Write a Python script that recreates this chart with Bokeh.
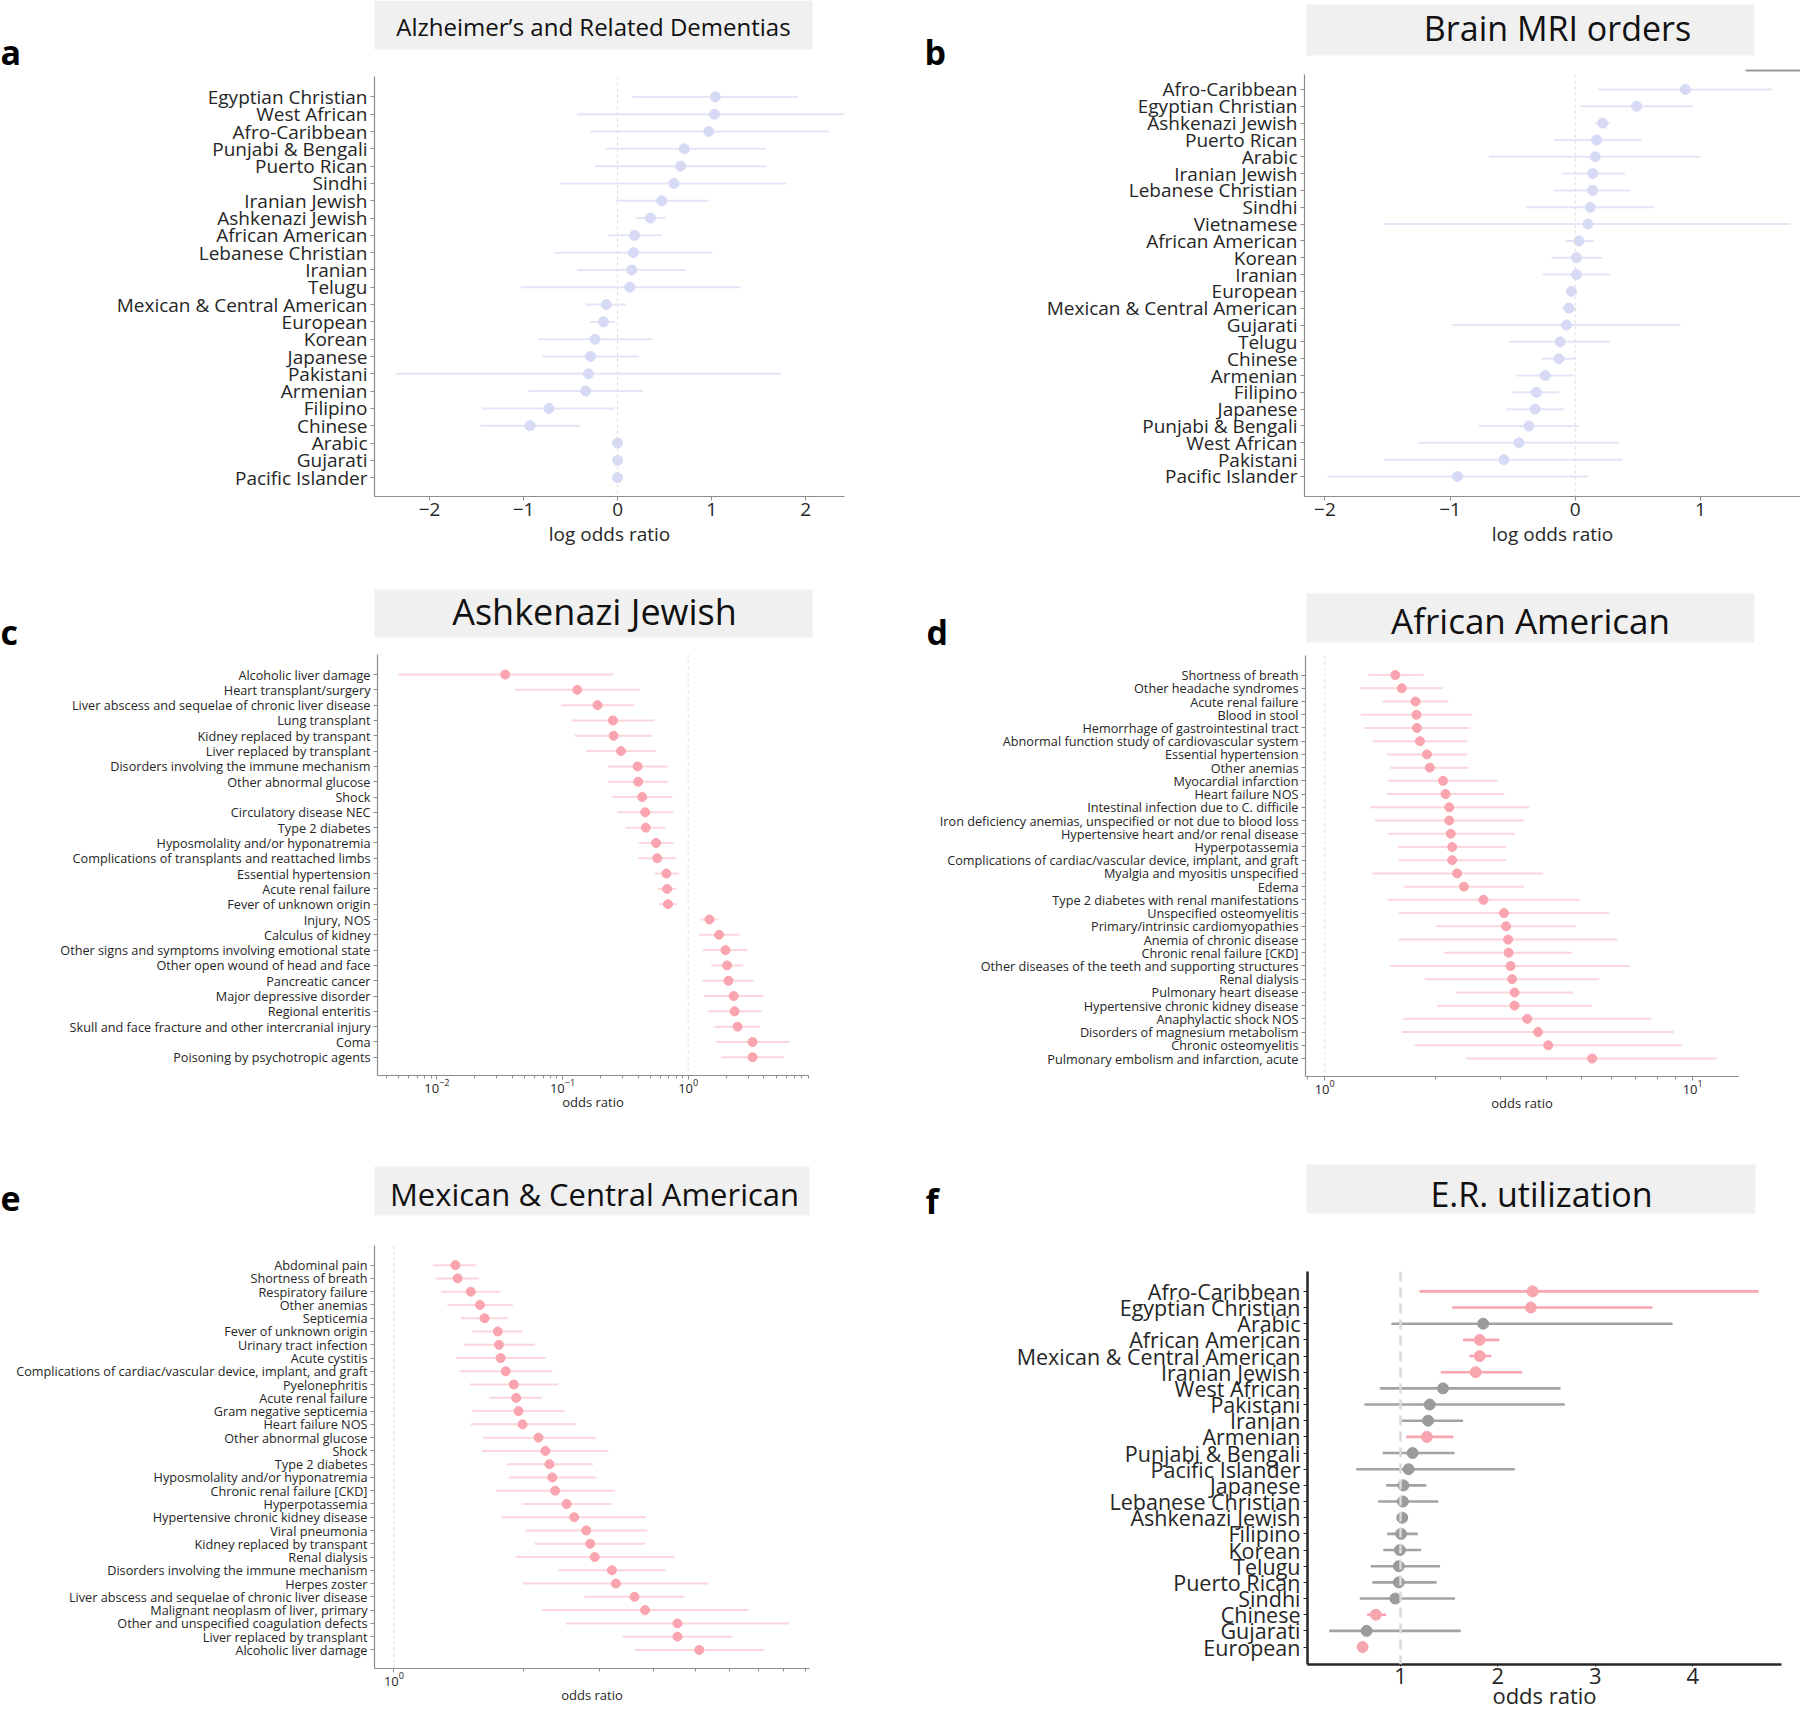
from bokeh.plotting import figure
from bokeh.layouts import column, row
from bokeh.models import Range1d, FixedTicker, LogTickFormatter, Span
from bokeh.core.properties import value
from bokeh.embed import file_html
from bokeh.resources import INLINE

FONT = "Open Sans"

# ---------------- data ----------------
a_groups = ["Egyptian Christian", "West African", "Afro-Caribbean", "Punjabi & Bengali", "Puerto Rican",
            "Sindhi", "Iranian Jewish", "Ashkenazi Jewish", "African American", "Lebanese Christian",
            "Iranian", "Telugu", "Mexican & Central American", "European", "Korean", "Japanese",
            "Pakistani", "Armenian", "Filipino", "Chinese", "Arabic", "Gujarati", "Pacific Islander"]
a_est = [1.04, 1.03, 0.97, 0.71, 0.67, 0.60, 0.47, 0.35, 0.18, 0.17, 0.15, 0.13, -0.12, -0.15,
         -0.24, -0.29, -0.31, -0.34, -0.73, -0.93, 0.0, 0.0, 0.0]
a_lo = [0.16, -0.43, -0.29, -0.13, -0.24, -0.61, -0.02, 0.20, -0.10, -0.67, -0.43, -1.03, -0.34,
        -0.29, -0.85, -0.80, -2.36, -0.95, -1.44, -1.46, 0.0, 0.0, 0.0]
a_hi = [1.92, 2.41, 2.25, 1.58, 1.58, 1.80, 0.97, 0.51, 0.47, 1.01, 0.72, 1.31, 0.09, -0.03,
        0.37, 0.23, 1.74, 0.27, -0.03, -0.40, 0.0, 0.0, 0.0]
a_ticks = [-2, -1, 0, 1, 2]

b_groups = ["Afro-Caribbean", "Egyptian Christian", "Ashkenazi Jewish", "Puerto Rican", "Arabic",
            "Iranian Jewish", "Lebanese Christian", "Sindhi", "Vietnamese", "African American", "Korean",
            "Iranian", "European", "Mexican & Central American", "Gujarati", "Telugu", "Chinese",
            "Armenian", "Filipino", "Japanese", "Punjabi & Bengali", "West African", "Pakistani",
            "Pacific Islander"]
b_est = [0.88, 0.49, 0.22, 0.17, 0.16, 0.14, 0.14, 0.12, 0.10, 0.03, 0.01, 0.01, -0.03, -0.05,
         -0.07, -0.12, -0.13, -0.24, -0.31, -0.32, -0.37, -0.45, -0.57, -0.94]
b_lo = [0.18, 0.04, 0.16, -0.17, -0.69, -0.11, -0.17, -0.39, -1.52, -0.08, -0.19, -0.26, -0.07,
        -0.11, -0.98, -0.53, -0.27, -0.47, -0.50, -0.55, -0.77, -1.26, -1.53, -1.98]
b_hi = [1.57, 0.94, 0.28, 0.53, 1.00, 0.40, 0.44, 0.63, 1.72, 0.15, 0.22, 0.28, 0.00, 0.01,
        0.84, 0.28, 0.00, -0.02, -0.13, -0.09, 0.03, 0.35, 0.38, 0.10]
b_ticks = [-2, -1, 0, 1]

c_groups = ["Alcoholic liver damage", "Heart transplant/surgery",
            "Liver abscess and sequelae of chronic liver disease", "Lung transplant",
            "Kidney replaced by transpant", "Liver replaced by transplant",
            "Disorders involving the immune mechanism", "Other abnormal glucose", "Shock",
            "Circulatory disease NEC", "Type 2 diabetes", "Hyposmolality and/or hyponatremia",
            "Complications of transplants and reattached limbs", "Essential hypertension",
            "Acute renal failure", "Fever of unknown origin", "Injury, NOS", "Calculus of kidney",
            "Other signs and symptoms involving emotional state", "Other open wound of head and face",
            "Pancreatic cancer", "Major depressive disorder", "Regional enteritis",
            "Skull and face fracture and other intercranial injury", "Coma",
            "Poisoning by psychotropic agents"]
c_est = [0.035, 0.131, 0.19, 0.252, 0.255, 0.292, 0.396, 0.40, 0.43, 0.455, 0.46, 0.555, 0.567,
         0.67, 0.68, 0.69, 1.475, 1.76, 1.98, 2.04, 2.09, 2.30, 2.34, 2.47, 3.25, 3.25]
c_lo = [0.0049, 0.042, 0.098, 0.118, 0.125, 0.154, 0.23, 0.23, 0.25, 0.274, 0.318, 0.405, 0.40,
        0.54, 0.573, 0.585, 1.25, 1.22, 1.31, 1.52, 1.30, 1.34, 1.45, 1.62, 1.67, 1.84]
c_hi = [0.255, 0.41, 0.37, 0.54, 0.515, 0.55, 0.685, 0.69, 0.75, 0.76, 0.66, 0.76, 0.80, 0.836,
        0.80, 0.82, 1.71, 2.58, 2.95, 2.72, 3.32, 3.96, 3.84, 3.72, 6.43, 5.79]
c_ticks = [0.01, 0.1, 1]

d_groups = ["Shortness of breath", "Other headache syndromes", "Acute renal failure", "Blood in stool",
            "Hemorrhage of gastrointestinal tract", "Abnormal function study of cardiovascular system",
            "Essential hypertension", "Other anemias", "Myocardial infarction", "Heart failure NOS",
            "Intestinal infection due to C. difficile",
            "Iron deficiency anemias, unspecified or not due to blood loss",
            "Hypertensive heart and/or renal disease", "Hyperpotassemia",
            "Complications of cardiac/vascular device, implant, and graft",
            "Myalgia and myositis unspecified", "Edema", "Type 2 diabetes with renal manifestations",
            "Unspecified osteomyelitis", "Primary/intrinsic cardiomyopathies",
            "Anemia of chronic disease", "Chronic renal failure [CKD]",
            "Other diseases of the teeth and supporting structures", "Renal dialysis",
            "Pulmonary heart disease", "Hypertensive chronic kidney disease", "Anaphylactic shock NOS",
            "Disorders of magnesium metabolism", "Chronic osteomyelitis",
            "Pulmonary embolism and infarction, acute"]
d_est = [1.556, 1.62, 1.765, 1.776, 1.78, 1.815, 1.896, 1.93, 2.097, 2.13, 2.18, 2.18, 2.20, 2.22,
         2.22, 2.29, 2.39, 2.70, 3.07, 3.11, 3.15, 3.16, 3.20, 3.23, 3.28, 3.28, 3.55, 3.80, 4.05, 5.33]
d_lo = [1.314, 1.245, 1.437, 1.254, 1.28, 1.35, 1.474, 1.506, 1.49, 1.474, 1.328, 1.371, 1.484,
        1.584, 1.584, 1.343, 1.636, 1.48, 1.59, 2.008, 1.59, 2.11, 1.506, 1.87, 2.27, 2.02, 1.63,
        1.62, 1.758, 2.42]
d_hi = [1.86, 2.09, 2.17, 2.52, 2.47, 2.44, 2.44, 2.46, 2.95, 3.08, 3.59, 3.48, 3.28, 3.11, 3.11,
        3.92, 3.48, 4.93, 5.92, 4.81, 6.25, 4.70, 6.76, 5.57, 4.74, 5.33, 7.72, 8.88, 9.34, 11.63]
d_ticks = [1, 10]

e_groups = ["Abdominal pain", "Shortness of breath", "Respiratory failure", "Other anemias", "Septicemia",
            "Fever of unknown origin", "Urinary tract infection", "Acute cystitis",
            "Complications of cardiac/vascular device, implant, and graft", "Pyelonephritis",
            "Acute renal failure", "Gram negative septicemia", "Heart failure NOS",
            "Other abnormal glucose", "Shock", "Type 2 diabetes", "Hyposmolality and/or hyponatremia",
            "Chronic renal failure [CKD]", "Hyperpotassemia", "Hypertensive chronic kidney disease",
            "Viral pneumonia", "Kidney replaced by transpant", "Renal dialysis",
            "Disorders involving the immune mechanism", "Herpes zoster",
            "Liver abscess and sequelae of chronic liver disease", "Malignant neoplasm of liver, primary",
            "Other and unspecified coagulation defects", "Liver replaced by transplant",
            "Alcoholic liver damage"]
e_est = [1.388, 1.405, 1.507, 1.583, 1.622, 1.741, 1.751, 1.767, 1.816, 1.896, 1.92, 1.944, 1.986,
         2.163, 2.244, 2.293, 2.328, 2.364, 2.513, 2.616, 2.79, 2.85, 2.92, 3.20, 3.27, 3.61, 3.82,
         4.54, 4.54, 5.10]
e_lo = [1.231, 1.25, 1.285, 1.33, 1.431, 1.52, 1.453, 1.396, 1.422, 1.498, 1.667, 1.52, 1.507,
        1.607, 1.598, 1.828, 1.845, 1.725, 1.986, 1.778, 2.016, 2.118, 1.914, 2.408, 1.992, 2.764,
        2.203, 2.50, 3.39, 3.62]
e_hi = [1.554, 1.573, 1.767, 1.885, 1.834, 1.986, 2.124, 2.244, 2.328, 2.40, 2.203, 2.49, 2.64,
        2.93, 3.14, 2.893, 2.948, 3.25, 3.19, 3.835, 3.86, 3.82, 4.47, 4.26, 5.36, 4.71, 6.63,
        8.25, 6.09, 7.21]
e_ticks = [1]

f_groups = ["Afro-Caribbean", "Egyptian Christian", "Arabic", "African American",
            "Mexican & Central American", "Iranian Jewish", "West African", "Pakistani", "Iranian",
            "Armenian", "Punjabi & Bengali", "Pacific Islander", "Japanese", "Lebanese Christian",
            "Ashkenazi Jewish", "Filipino", "Korean", "Telugu", "Puerto Rican", "Sindhi", "Chinese",
            "Gujarati", "European"]
f_est = [2.356, 2.338, 1.849, 1.813, 1.813, 1.772, 1.436, 1.30, 1.283, 1.271, 1.124, 1.083, 1.03,
         1.024, 1.018, 1.006, 0.994, 0.982, 0.982, 0.947, 0.747, 0.652, 0.611]
f_lo = [1.194, 1.53, 0.906, 1.642, 1.707, 1.413, 0.788, 0.629, 1.012, 1.059, 0.817, 0.546, 0.853,
        0.77, 0.965, 0.864, 0.823, 0.694, 0.711, 0.582, 0.658, 0.269, 0.60]
f_hi = [4.678, 3.587, 3.794, 2.014, 1.931, 2.25, 2.644, 2.686, 1.642, 1.542, 1.554, 2.173, 1.265,
        1.389, 1.077, 1.177, 1.212, 1.407, 1.371, 1.56, 0.853, 1.619, 0.62]
f_significant = [True, True, False, True, True, True, False, False, False, True, False, False,
                 False, False, False, False, False, False, False, False, True, False, True]
f_ticks = [1, 2, 3, 4]

# ---------------- styles ----------------
LAV_DOT, LAV_LINE = "#d6daf5", "#e4e6f8"
PINK_DOT, PINK_LINE = "#f9a4af", "#fcd6dc"
F_PINK, F_GREY = "#f7a6b0", "#9b9b9b"
AXIS_GREY = "#8c8c8c"
BOX = "#f0f0f0"


def forest(groups, est, lo, hi, *, width, height, xr, borders, pads, ticks, log=False,
           dot_colors, line_colors, dot_size, line_width, label_size, tick_size,
           xlabel=None, xlabel_size=None, ref=0.0, axis_color=AXIS_GREY, axis_width=1.2,
           ref_style=("#dcdcdc", 1, "3 3"), tick_standoff=2, label_standoff=2, x_tick_out=4):
    n = len(groups)
    ys = [n - 1 - i for i in range(n)]
    p = figure(width=width, height=height, x_range=Range1d(*xr),
               y_range=Range1d(-pads[0], n - 1 + pads[1]),
               x_axis_type="log" if log else "linear",
               output_backend="svg", toolbar_location=None, tools="",
               min_border_left=borders[0], min_border_right=borders[1],
               min_border_top=borders[2], min_border_bottom=borders[3])
    p.outline_line_color = None
    p.xgrid.visible = False
    p.ygrid.visible = False
    p.background_fill_color = "white"
    p.border_fill_color = "white"

    p.add_layout(Span(location=ref, dimension="height", line_color=ref_style[0],
                      line_width=ref_style[1], line_dash=ref_style[2]))
    p.segment(x0=lo, y0=ys, x1=hi, y1=ys, line_color=line_colors, line_width=line_width)
    p.scatter(x=est, y=ys, size=dot_size, fill_color=dot_colors, line_color=dot_colors)

    # y axis
    p.yaxis.ticker = FixedTicker(ticks=ys)
    p.yaxis.major_label_overrides = {y: g for y, g in zip(ys, groups)}
    p.yaxis.minor_tick_line_color = None
    p.yaxis.major_tick_out = 4
    p.yaxis.major_tick_in = 0
    p.yaxis.major_label_standoff = 3
    p.yaxis.major_label_text_font = FONT
    p.yaxis.major_label_text_font_size = f"{label_size}px"
    p.yaxis.major_label_text_color = "#262626"

    # x axis
    if log:
        minors = [k * 10.0 ** e for e in range(-3, 2) for k in range(2, 10)]
        p.xaxis.ticker = FixedTicker(ticks=ticks, minor_ticks=minors)
        p.xaxis.formatter = LogTickFormatter()
        p.xaxis.minor_tick_out = 3
        p.xaxis.minor_tick_in = 0
        p.xaxis.minor_tick_line_color = axis_color
    else:
        p.xaxis.ticker = FixedTicker(ticks=ticks)
        p.xaxis.minor_tick_line_color = None
    p.xaxis.major_tick_out = x_tick_out
    p.xaxis.major_tick_in = 0
    p.xaxis.major_label_standoff = tick_standoff
    p.xaxis.major_label_text_font = FONT
    p.xaxis.major_label_text_font_size = f"{tick_size}px"
    p.xaxis.major_label_text_color = "#262626"
    if xlabel:
        p.xaxis.axis_label = xlabel
        p.xaxis.axis_label_text_font = FONT
        p.xaxis.axis_label_text_font_style = "normal"
        p.xaxis.axis_label_text_font_size = f"{xlabel_size}px"
        p.xaxis.axis_label_text_color = "#262626"
        p.xaxis.axis_label_standoff = label_standoff
    for ax in (p.xaxis, p.yaxis):
        ax.axis_line_color = axis_color
        ax.axis_line_width = axis_width
        ax.major_tick_line_color = axis_color
    return p


pa = forest(a_groups, a_est, a_lo, a_hi, width=900, height=504, xr=(-2.586, 2.414),
            borders=(374, 56, 2, 82), pads=(1.09, 1.18), ticks=a_ticks,
            dot_colors=LAV_DOT, line_colors=LAV_LINE, dot_size=10, line_width=2,
            label_size=19, tick_size=19, xlabel="log odds ratio", xlabel_size=19)
pb = forest(b_groups, b_est, b_lo, b_hi, width=900, height=504, xr=(-2.163, 1.80),
            borders=(404, 0, 0, 82), pads=(1.19, 0.89), ticks=b_ticks,
            dot_colors=LAV_DOT, line_colors=LAV_LINE, dot_size=10, line_width=2,
            label_size=19, tick_size=19, xlabel="log odds ratio", xlabel_size=19)
pc = forest(c_groups, c_est, c_lo, c_hi, width=900, height=496, xr=(10 ** -2.472, 10 ** 0.957),
            borders=(377, 92, 0, 75), pads=(1.19, 1.31), ticks=c_ticks, log=True, ref=1.0,
            dot_colors=PINK_DOT, line_colors=PINK_LINE, dot_size=9, line_width=2,
            label_size=12.7, tick_size=13, xlabel="odds ratio", xlabel_size=13,
            tick_standoff=-1, label_standoff=-3)
pd_ = forest(d_groups, d_est, d_lo, d_hi, width=900, height=496, xr=(10 ** -0.0522, 10 ** 1.1245),
             borders=(405, 62, 1, 74), pads=(1.36, 1.48), ticks=d_ticks, log=True, ref=1.0,
             dot_colors=PINK_DOT, line_colors=PINK_LINE, dot_size=9, line_width=2,
             label_size=12.7, tick_size=13, xlabel="odds ratio", xlabel_size=13,
             tick_standoff=-1, label_standoff=-3)
pe = forest(e_groups, e_est, e_lo, e_hi, width=900, height=472, xr=(10 ** -0.045, 10 ** 0.963),
            borders=(374, 91, 5, 44), pads=(1.4, 1.48), ticks=e_ticks, log=True, ref=1.0,
            dot_colors=PINK_DOT, line_colors=PINK_LINE, dot_size=9, line_width=2,
            label_size=12.7, tick_size=13, xlabel="odds ratio", xlabel_size=13,
            tick_standoff=-1, label_standoff=-3)

f_dot = [F_PINK if s else F_GREY for s in f_significant]
f_line = [F_PINK if s else "#a3a3a3" for s in f_significant]
pf = forest(f_groups, f_est, f_lo, f_hi, width=900, height=472, xr=(0.045, 4.912),
            borders=(407, 19, 31, 45), pads=(1.08, 1.23), ticks=f_ticks, ref=1.0,
            dot_colors=f_dot, line_colors=f_line, dot_size=11, line_width=2.6,
            label_size=21.5, tick_size=22, axis_color="#262626", axis_width=2.5,
            ref_style=("#d9d9d9", 2.5, "10 6"), tick_standoff=1, x_tick_out=2,
            xlabel="odds ratio", xlabel_size=22, label_standoff=-7)


# ---------------- header strips (title boxes, panel letters) ----------------
def strip(x0, x1, y0, y1, boxes=(), titles=(), letters=(), lines=()):
    h = figure(width=int(x1 - x0), height=int(y1 - y0), x_range=Range1d(x0, x1),
               y_range=Range1d(y1, y0), output_backend="svg", toolbar_location=None, tools="",
               min_border=0, x_axis_location=None, y_axis_location=None)
    h.outline_line_color = None
    h.xgrid.visible = False
    h.ygrid.visible = False
    for (l, r, t, b) in boxes:
        h.quad(left=l, right=r, top=t, bottom=b, fill_color=BOX, line_color=None)
    for (x, y, txt, size) in titles:
        h.text(x=[x], y=[y], text=[txt], text_font=value(FONT), text_font_size=f"{size}px",
               text_align="center", text_baseline="middle", text_color="#111111")
    for (x, y, txt) in letters:
        h.text(x=[x], y=[y], text=[txt], text_font=value(FONT), text_font_size="34px",
               text_font_style="bold", text_align="left", text_baseline="middle",
               text_color="#000000")
    for (lx0, lx1, ly) in lines:
        h.segment(x0=[lx0], y0=[ly], x1=[lx1], y1=[ly], line_color="#999999", line_width=2)
    return h


h1 = strip(0, 1800, 0, 74,
           boxes=[(374, 812, 0, 49), (1306, 1754, 4, 55)],
           titles=[(593, 25.5, "Alzheimer’s and Related Dementias", 24),
                   (1557, 27, "Brain MRI orders", 34)],
           letters=[(0, 51, "a"), (924, 51, "b")],
           lines=[(1745, 1800, 70)])
h2 = strip(0, 1800, 578, 654,
           boxes=[(374, 812, 589, 637), (1306, 1754, 593, 642)],
           titles=[(594, 611, "Ashkenazi Jewish", 36),
                   (1530, 620, "African American", 35)],
           letters=[(0, 631, "c"), (926, 631, "d")])
h3 = strip(0, 1800, 1150, 1240,
           boxes=[(374, 809, 1166, 1215), (1306, 1755, 1164, 1213)],
           titles=[(594, 1193, "Mexican & Central American", 31),
                   (1541, 1193, "E.R. utilization", 34)],
           letters=[(0, 1198, "e"), (925, 1200, "f")])

# each panel wrapped in its own column so Bokeh does not align frames across a row
layout = column(h1, row(column(pa), column(pb)),
                h2, row(column(pc), column(pd_)),
                h3, row(column(pe), column(pf)))

open("out.html", "w").write(file_html(layout, INLINE))
